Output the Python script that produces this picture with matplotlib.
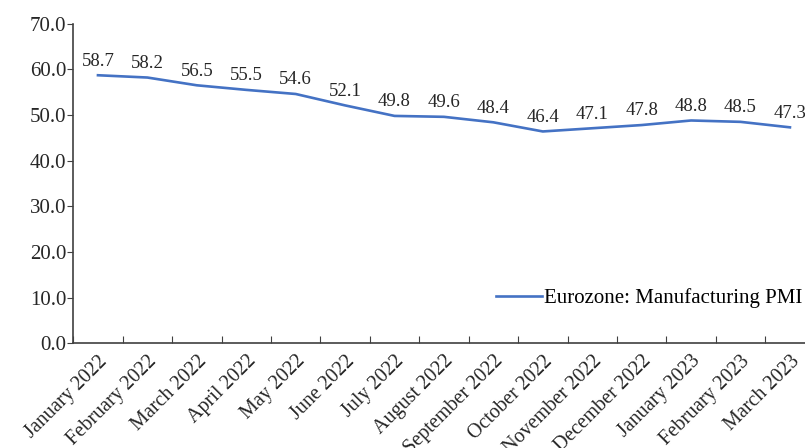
import numpy as np
import matplotlib.pyplot as plt

plt.rcParams['font.family'] = ['Liberation Serif', 'DejaVu Serif']

months = ['January 2022', 'February 2022', 'March 2022', 'April 2022', 'May 2022',
          'June 2022', 'July 2022', 'August 2022', 'September 2022', 'October 2022',
          'November 2022', 'December 2022', 'January 2023', 'February 2023', 'March 2023']
pmi = [58.7, 58.2, 56.5, 55.5, 54.6, 52.1, 49.8, 49.6, 48.4, 46.4,
       47.1, 47.8, 48.8, 48.5, 47.3]

fig = plt.figure(figsize=(8.05, 4.48), dpi=100)
ax = fig.add_axes([0.091, 0.2333, 0.921, 0.714])

x = np.arange(len(months))
ax.plot(x, pmi, color='#4472C4', lw=1.9, label='Eurozone: Manufacturing PMI')

for xi, v in zip(x, pmi):
    ax.annotate(f'{v:.1f}', (xi, v), xytext=(0, 4), textcoords='offset points',
                ha='center', va='bottom', fontsize=13.5, color='#262626')

ax.set_xlim(-0.5, len(months) - 0.5)
ax.set_ylim(0, 70)
ax.set_yticks(np.arange(0, 71, 10))
ax.set_yticklabels([f'{t:.1f}' for t in np.arange(0, 71, 10)], fontsize=15, color='#262626')

# category ticks sit between the points
ax.set_xticks(np.arange(len(months) + 1) - 0.5)
ax.set_xticklabels([])
ax.set_xticks(x, minor=True)
ax.set_xticklabels(months, minor=True, rotation=45, ha='right',
                   rotation_mode='anchor', fontsize=14.5, color='#262626')
ax.tick_params(axis='x', which='major', direction='in', length=5, color='#404040')
ax.tick_params(axis='x', which='minor', length=0, pad=6)
ax.tick_params(axis='y', direction='out', length=4, pad=1, color='#404040')

for s in ['top', 'right']:
    ax.spines[s].set_visible(False)
for s in ['left', 'bottom']:
    ax.spines[s].set_color('#404040')
    ax.spines[s].set_linewidth(1.2)

ax.legend(loc='center right', bbox_to_anchor=(0.995, 0.142), frameon=False,
          borderaxespad=0, fontsize=15, handlelength=2.2, handletextpad=0.1)

fig.savefig('out.png', dpi=100)
